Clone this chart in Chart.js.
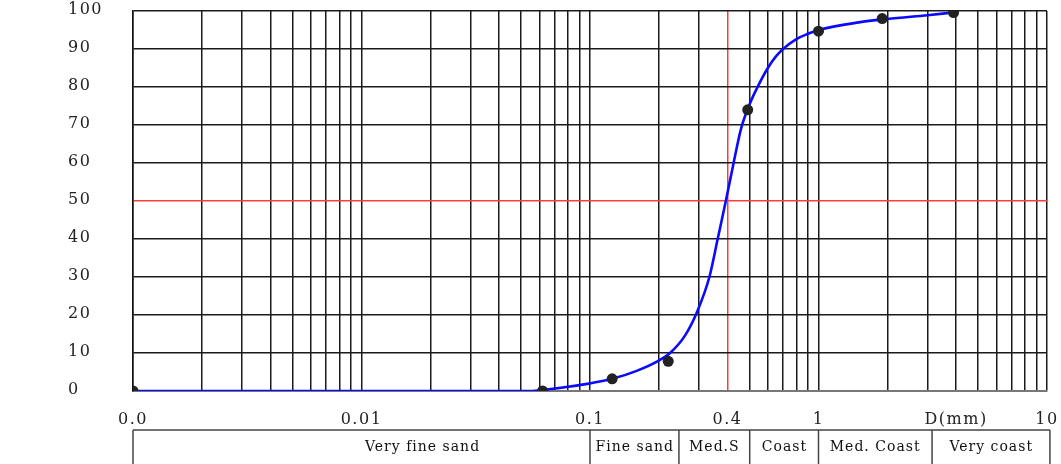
<!DOCTYPE html>
<html>
<head>
<meta charset="utf-8">
<title>Grain size distribution</title>
<script src="https://cdn.jsdelivr.net/npm/chart.js@4.4.1/dist/chart.umd.min.js"></script>
<style>
  body { margin: 0; background: #fff; }
  #wrap { width: 1061px; height: 464px; }
</style>
</head>
<body>
<div id="wrap"><canvas id="grainChart"></canvas></div>
<script>
// sieve results: diameter (mm) and % passing
const sieveSizes = [0.001, 0.062, 0.125, 0.22, 0.49, 1.0, 1.9, 3.9];
const sievePassing = [0, 0, 3.2, 7.8, 74, 94.7, 98, 99.6];

// the smooth fitted curve
const curveSizes = [0.001, 0.01, 0.055, 0.063, 0.08, 0.1, 0.125, 0.16, 0.2, 0.224, 0.26, 0.295, 0.333, 0.362, 0.393, 0.425, 0.458, 0.5, 0.536, 0.6, 0.65, 0.7, 0.8, 0.9, 1.0, 1.5, 2, 3, 3.9];
const curvePassing = [0, 0, 0, 0.3, 1.1, 2, 3.2, 5.3, 8, 10, 14.5, 21, 30, 40, 50, 60, 69, 75.5, 79.5, 85, 88, 90, 92.6, 94, 95, 97, 97.9, 98.9, 99.6];

// labels written under the x axis
const xLabelValues = [0.001, 0.01, 0.1, 0.4, 1, 4, 10];
const xLabelTexts = ['0.0', '0.01', '0.1', '0.4', '1', 'D(mm)', '10'];

// soil classes in the strip below the chart
const zoneEdges = [0.001, 0.1, 0.245, 0.5, 1, 3.14, 10.3];
const zoneNames = ['Very fine sand', 'Fine sand', 'Med.S', 'Coast', 'Med. Coast', 'Very coast'];
const zoneLabelAt = [0.0185, 0.157, 0.35, 0.71, 1.77, 5.7];

// red reference lines (D50)
const refSize = 0.4;
const refPassing = 50;

// log grid: 1..9 in every decade
const gridValues = [];
[0.001, 0.01, 0.1, 1].forEach(d => {
  for (let m = 1; m < 10; m++) gridValues.push(+(m * d).toPrecision(3));
});
gridValues.push(10);

const same = (a, b) => Math.abs(a - b) < Math.abs(b) * 1e-6 + 1e-12;

const textSpacing = {
  id: 'textSpacing',
  beforeDraw(chart) { chart.ctx.letterSpacing = '1.5px'; }
};

const zoneStrip = {
  id: 'zoneStrip',
  afterDraw(chart) {
    const { ctx, chartArea } = chart;
    const x = chart.scales.x;
    const top = chartArea.bottom + 39;
    const bottom = chart.height + 2;
    ctx.save();
    ctx.strokeStyle = '#444';
    ctx.lineWidth = 1.5;
    ctx.beginPath();
    ctx.moveTo(x.getPixelForValue(zoneEdges[0]), top);
    ctx.lineTo(x.getPixelForValue(zoneEdges[zoneEdges.length - 1]), top);
    zoneEdges.forEach(e => {
      const px = x.getPixelForValue(e);
      ctx.moveTo(px, top);
      ctx.lineTo(px, bottom);
    });
    ctx.stroke();
    ctx.letterSpacing = '1px';
    ctx.font = '14px "DejaVu Serif"';
    ctx.fillStyle = '#111';
    ctx.textAlign = 'center';
    ctx.textBaseline = 'middle';
    zoneNames.forEach((name, i) => {
      ctx.fillText(name, x.getPixelForValue(zoneLabelAt[i]), top + 17);
    });
    ctx.restore();
  }
};

new Chart(document.getElementById('grainChart'), {
  type: 'scatter',
  data: {
    datasets: [{
      label: 'Sieve',
      data: sieveSizes.map((s, i) => ({ x: s, y: sievePassing[i] })),
      pointRadius: 5.5,
      pointBackgroundColor: '#222',
      pointBorderWidth: 0,
      order: 0
    }, {
      label: 'Curve',
      data: curveSizes.map((s, i) => ({ x: s, y: curvePassing[i] })),
      showLine: true,
      borderColor: '#0a0aff',
      borderWidth: 2.6,
      pointRadius: 0,
      cubicInterpolationMode: 'monotone',
      order: 1
    }]
  },
  options: {
    responsive: true,
    maintainAspectRatio: false,
    animation: false,
    layout: { padding: { left: 68, top: 11, right: 14, bottom: 0 } },
    plugins: {
      legend: { display: false },
      tooltip: { enabled: false }
    },
    scales: {
      x: {
        type: 'logarithmic',
        min: 0.001,
        max: 10,
        afterBuildTicks: scale => { scale.ticks = gridValues.map(v => ({ value: v })); },
        afterFit: scale => { scale.height = 73; scale.paddingLeft = 0; scale.paddingRight = 0; },
        border: { color: '#777', width: 2 },
        grid: {
          drawTicks: false,
          color: ctx => ctx.tick && same(ctx.tick.value, refSize) ? '#ff3b3b' : '#1a1a1a',
          lineWidth: 1.5
        },
        ticks: {
          autoSkip: false,
          maxRotation: 0,
          padding: 19,
          color: '#222',
          font: { family: 'DejaVu Serif', size: 16 },
          callback: value => {
            const k = xLabelValues.findIndex(v => same(value, v));
            return k >= 0 ? xLabelTexts[k] : '';
          }
        }
      },
      y: {
        min: 0,
        max: 100,
        afterFit: scale => { scale.width = 65; scale.paddingTop = 0; scale.paddingBottom = 0; },
        border: { color: '#111', width: 1.5 },
        grid: {
          drawTicks: false,
          color: ctx => ctx.tick && ctx.tick.value === refPassing ? '#ff3b3b' : '#1a1a1a',
          lineWidth: 1.5
        },
        ticks: {
          stepSize: 10,
          crossAlign: 'far',
          labelOffset: -1,
          color: '#222',
          font: { family: 'DejaVu Serif', size: 16 }
        }
      }
    }
  },
  plugins: [textSpacing, zoneStrip]
});
</script>
</body>
</html>
